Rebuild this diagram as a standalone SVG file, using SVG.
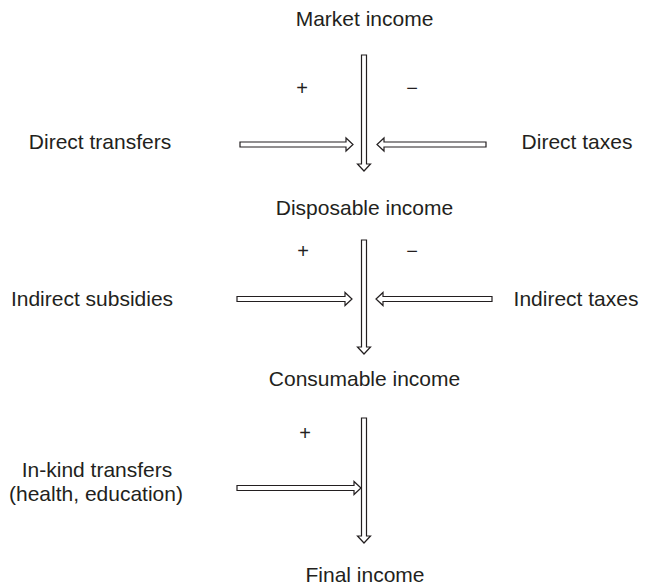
<svg xmlns="http://www.w3.org/2000/svg" width="647" height="588" viewBox="0 0 647 588">
<style>
text{font-family:"Liberation Sans",Arial,sans-serif;font-size:21px;fill:#231f20}
.c{text-anchor:middle}
.sign{font-size:20px}
.arr{fill:#fff;stroke:#231f20;stroke-width:1.2;stroke-linejoin:miter}
</style>
<rect width="647" height="588" fill="#fff"/>
<g id="market-income"><text class="c" x="364.5" y="25.5">Market income</text></g>
<g id="direct-transfers"><text class="c" x="100" y="149">Direct transfers</text></g>
<g id="direct-taxes"><text class="c" x="577" y="149">Direct taxes</text></g>
<g id="disposable-income"><text class="c" x="364.5" y="215">Disposable income</text></g>
<g id="indirect-subsidies"><text class="c" x="92" y="306">Indirect subsidies</text></g>
<g id="indirect-taxes"><text class="c" x="576" y="306">Indirect taxes</text></g>
<g id="consumable-income"><text class="c" x="364.5" y="386">Consumable income</text></g>
<g id="in-kind-transfers"><text class="c" x="97" y="477">In-kind transfers</text><text class="c" x="96" y="501">(health, education)</text></g>
<g id="final-income"><text class="c" x="365" y="582">Final income</text></g>
<g id="signs">
<text class="c sign" x="302" y="95">+</text>
<text class="c sign" x="412" y="95">−</text>
<text class="c sign" x="303" y="258">+</text>
<text class="c sign" x="412" y="258">−</text>
<text class="c sign" x="305" y="440">+</text>
</g>
<g id="connectors">
<polygon class="arr" points="361.5,55 366.5,55 366.5,164 370.5,164 364,171 357.5,164 361.5,164"/>
<polygon class="arr" points="240,142 346,142 346,138 353,144.5 346,151 346,147 240,147"/>
<polygon class="arr" points="486,142 384,142 384,138 377,144.5 384,151 384,147 486,147"/>
<polygon class="arr" points="361.5,240 366.5,240 366.5,347 370.5,347 364,354 357.5,347 361.5,347"/>
<polygon class="arr" points="237,296.5 345,296.5 345,292.5 352,299 345,305.5 345,301.5 237,301.5"/>
<polygon class="arr" points="492,296.5 383,296.5 383,292.5 376,299 383,305.5 383,301.5 492,301.5"/>
<polygon class="arr" points="361.5,418 366.5,418 366.5,536 370.5,536 364,543 357.5,536 361.5,536"/>
<polygon class="arr" points="237,485.5 354,485.5 354,481.5 361,488 354,494.5 354,490.5 237,490.5"/>
</g>
</svg>
